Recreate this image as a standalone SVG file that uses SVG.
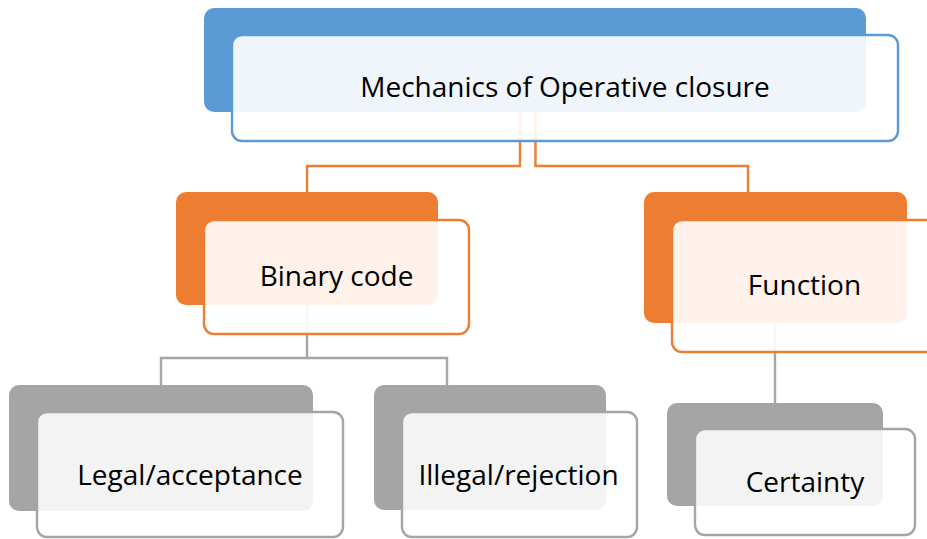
<svg xmlns="http://www.w3.org/2000/svg" width="927" height="539" viewBox="0 0 927 539">
<style>
.bk{stroke:none}
.fr{fill:#ffffff;fill-opacity:0.9;stroke-width:2.4}
.blue .bk{fill:#5B9BD5}.blue .fr{stroke:#5B9BD5}
.org .bk{fill:#ED7D31}.org .fr{stroke:#ED7D31}
.gry .bk{fill:#A5A5A5}.gry .fr{stroke:#A5A5A5;fill-opacity:0.87}
.lbl{font-family:"Open Sans","Noto Sans","DejaVu Sans",sans-serif;font-size:28px;fill:#000;text-anchor:middle}
.co{fill:none;stroke-width:2.4}
.co-o{stroke:#ED7D31}.co-g{stroke:#A5A5A5}
</style>
<rect width="927" height="539" fill="#ffffff"/>
<g id="connectors">
<polyline class="co co-o" points="520,112 520,166 307,166 307,192"/>
<polyline class="co co-o" points="535.5,112 535.5,166 748,166 748,192"/>
<polyline class="co co-g" points="307,305 307,358 161,358 161,385"/>
<polyline class="co co-g" points="307,358 447,358 447,385"/>
<polyline class="co co-g" points="775,323 775,403"/>
</g>
<g id="node-top" class="blue">
<rect class="bk" x="204" y="8" width="662" height="104" rx="10"/>
<rect class="fr" x="232" y="35" width="666" height="106" rx="10"/>
<text class="lbl" x="565" y="97">Mechanics of Operative closure</text>
</g>
<g id="node-binary" class="org">
<rect class="bk" x="176" y="192" width="262" height="113" rx="10"/>
<rect class="fr" x="204" y="220" width="265" height="114" rx="10"/>
<text class="lbl" x="336.5" y="286">Binary code</text>
</g>
<g id="node-function" class="org">
<rect class="bk" x="644" y="192" width="263" height="131" rx="10"/>
<rect class="fr" x="672" y="220" width="266" height="132" rx="10"/>
<text class="lbl" x="804.5" y="295">Function</text>
</g>
<g id="node-legal" class="gry">
<rect class="bk" x="9" y="385" width="304" height="126" rx="10"/>
<rect class="fr" x="37" y="412" width="306" height="125" rx="10"/>
<text class="lbl" x="190" y="485">Legal/acceptance</text>
</g>
<g id="node-illegal" class="gry">
<rect class="bk" x="374" y="385" width="232" height="125" rx="10"/>
<rect class="fr" x="402" y="412" width="235" height="125" rx="10"/>
<text class="lbl" x="518.5" y="485">Illegal/rejection</text>
</g>
<g id="node-certainty" class="gry">
<rect class="bk" x="667" y="403" width="216" height="103" rx="10"/>
<rect class="fr" x="695" y="429" width="220" height="106" rx="10"/>
<text class="lbl" x="805" y="492">Certainty</text>
</g>
</svg>
